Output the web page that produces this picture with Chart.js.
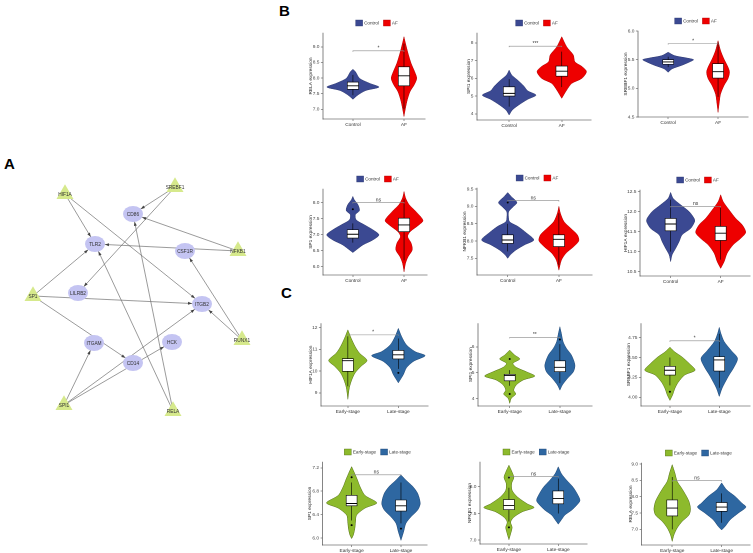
<!DOCTYPE html>
<html>
<head>
<meta charset="utf-8">
<script src="https://cdn.jsdelivr.net/npm/chart.js@4.4.1/dist/chart.umd.min.js"></script>
<style>
html, body { margin: 0; padding: 0; background: #fff; }
body { width: 753px; height: 553px; position: relative; overflow: hidden; font-family: "Liberation Sans", Arial, sans-serif; }
canvas { position: absolute; }
.tag { position: absolute; font-weight: bold; font-size: 15px; line-height: 16px; color: #000; }
</style>
</head>
<body>
<div class="tag" style="left:4px;top:156px">A</div>
<div class="tag" style="left:279px;top:3px">B</div>
<div class="tag" style="left:281px;top:285px">C</div>
<script>
// ---- panel A: network ----
const netNodes = ['HIF1A', 'SREBF1', 'NFKB1', 'SP1', 'RUNX1', 'SPI1', 'RELA',
  'CD86', 'TLR2', 'CSF1R', 'LILRB2', 'ITGB2', 'ITGAM', 'HCK', 'CD14'];
const netX = [65, 175, 238, 33, 242, 64, 173, 133, 95, 185, 78, 202, 94, 172, 133];
const netY = [34, 27, 91, 136, 180, 245, 251, 54, 84, 91, 133, 144, 183, 182, 203];
const netTF = [1, 1, 1, 1, 1, 1, 1, 0, 0, 0, 0, 0, 0, 0, 0];
const edgeFrom = ['HIF1A', 'HIF1A', 'SREBF1', 'SREBF1', 'NFKB1', 'NFKB1', 'SP1', 'SP1', 'SP1',
  'RUNX1', 'RUNX1', 'SPI1', 'SPI1', 'SPI1', 'RELA', 'RELA'];
const edgeTo = ['TLR2', 'ITGB2', 'CD86', 'LILRB2', 'CD86', 'TLR2', 'TLR2', 'ITGB2', 'CD14',
  'ITGB2', 'CSF1R', 'ITGAM', 'ITGB2', 'HCK', 'TLR2', 'CD86'];

// ---- panels B / C: violins (y levels, half widths in category units) ----
const bGroups = ['Control', 'AF'];
const cGroups = ['Early-stage', 'Late-stage'];

const bRELA_ctrl_y = [8.28, 8.20, 7.99, 7.83, 7.71, 7.60, 7.46, 7.32];
const bRELA_ctrl_w = [0, 0.05, 0.13, 0.33, 0.51, 0.25, 0.10, 0];
const bRELA_af_y = [9.32, 9.11, 8.79, 8.47, 8.20, 7.99, 7.78, 7.57, 7.30, 7.04, 6.77];
const bRELA_af_w = [0, 0.03, 0.08, 0.14, 0.21, 0.25, 0.20, 0.12, 0.065, 0.03, 0];
const bRELA_box = [[7.45, 7.64, 7.75, 7.87, 8.1], [7.0, 7.75, 8.07, 8.36, 9.1]];
const bRELA_out = [[], []];
const bRELA_sig = [8.87, '*'];

const bSPI1_ctrl_y = [6.46, 6.18, 5.90, 5.56, 5.30, 5.05, 4.81, 4.49, 4.21, 3.93];
const bSPI1_ctrl_w = [0, 0.05, 0.16, 0.28, 0.35, 0.51, 0.35, 0.18, 0.06, 0];
const bSPI1_af_y = [8.34, 7.77, 7.31, 6.93, 6.65, 6.37, 5.99, 5.71, 5.34, 4.87];
const bSPI1_af_w = [0, 0.095, 0.22, 0.25, 0.39, 0.47, 0.38, 0.19, 0.095, 0];
const bSPI1_box = [[4.4, 5.0, 5.15, 5.52, 5.95], [5.5, 6.12, 6.40, 6.69, 7.5]];
const bSPI1_out = [[], []];
const bSPI1_sig = [7.81, '***'];

const bSREBF1_ctrl_y = [5.68, 5.62, 5.58, 5.55, 5.51, 5.45, 5.39, 5.33];
const bSREBF1_ctrl_w = [0, 0.13, 0.37, 0.51, 0.43, 0.27, 0.08, 0];
const bSREBF1_af_y = [5.88, 5.71, 5.56, 5.42, 5.33, 5.22, 5.10, 4.95, 4.84, 4.63];
const bSREBF1_af_w = [0, 0.05, 0.12, 0.20, 0.23, 0.20, 0.12, 0.05, 0.03, 0];
const bSREBF1_box = [[5.42, 5.47, 5.51, 5.55, 5.6], [4.9, 5.23, 5.34, 5.48, 5.85]];
const bSREBF1_out = [[], []];
const bSREBF1_sig = [5.83, '*'];

const bSP1_ctrl_y = [8.19, 8.08, 7.93, 7.75, 7.62, 7.46, 7.30, 7.15, 6.99, 6.83, 6.68, 6.52, 6.44];
const bSP1_ctrl_w = [0, 0.03, 0.10, 0.13, 0.05, 0.065, 0.23, 0.39, 0.51, 0.39, 0.20, 0.065, 0];
const bSP1_af_y = [8.34, 8.14, 7.93, 7.72, 7.44, 7.30, 7.09, 6.94, 6.73, 6.52, 6.31, 6.11, 5.84];
const bSP1_af_w = [0, 0.03, 0.10, 0.23, 0.37, 0.29, 0.12, 0.07, 0.14, 0.16, 0.08, 0.03, 0];
const bSP1_box = [[6.75, 6.89, 7.01, 7.15, 7.35], [6.2, 7.09, 7.30, 7.51, 8.1]];
const bSP1_out = [[7.79], []];
const bSP1_sig = [8.0, 'ns'];

const bNFKB1_ctrl_y = [9.40, 9.29, 9.11, 8.98, 8.85, 8.71, 8.56, 8.42, 8.24, 8.03, 7.89, 7.74, 7.60, 7.50];
const bNFKB1_ctrl_w = [0, 0.065, 0.18, 0.10, 0.02, 0.015, 0.035, 0.20, 0.36, 0.51, 0.33, 0.16, 0.05, 0];
const bNFKB1_af_y = [9.0, 8.80, 8.56, 8.37, 8.18, 8.01, 7.84, 7.65, 7.45, 7.16];
const bNFKB1_af_w = [0, 0.03, 0.10, 0.23, 0.36, 0.39, 0.29, 0.14, 0.05, 0];
const bNFKB1_box = [[7.7, 7.93, 8.03, 8.18, 8.5], [7.3, 7.84, 8.05, 8.18, 8.8]];
const bNFKB1_out = [[9.11], []];
const bNFKB1_sig = [9.17, 'ns'];

const bHIF1A_ctrl_y = [12.48, 12.33, 12.17, 12.0, 11.83, 11.75, 11.58, 11.42, 11.25, 11.08, 10.92, 10.75];
const bHIF1A_ctrl_w = [0, 0.05, 0.20, 0.37, 0.47, 0.48, 0.40, 0.23, 0.17, 0.10, 0.03, 0];
const bHIF1A_af_y = [12.42, 12.25, 12.04, 11.83, 11.67, 11.48, 11.33, 11.17, 10.96, 10.75, 10.58];
const bHIF1A_af_w = [0, 0.05, 0.17, 0.30, 0.43, 0.50, 0.40, 0.25, 0.13, 0.07, 0];
const bHIF1A_box = [[11.0, 11.52, 11.69, 11.83, 12.3], [10.8, 11.28, 11.46, 11.63, 12.1]];
const bHIF1A_out = [[], []];
const bHIF1A_sig = [12.13, 'ns'];

const cHIF1A_early_y = [11.9, 11.52, 11.13, 10.83, 10.49, 10.22, 9.92, 9.61, 9.23, 8.70];
const cHIF1A_early_w = [0, 0.065, 0.145, 0.23, 0.38, 0.26, 0.145, 0.08, 0.03, 0];
const cHIF1A_late_y = [11.97, 11.59, 11.21, 10.90, 10.71, 10.45, 10.15, 9.84, 9.46];
const cHIF1A_late_w = [0, 0.065, 0.16, 0.33, 0.53, 0.30, 0.16, 0.10, 0];
const cHIF1A_box = [[9.3, 9.99, 10.48, 10.57, 11.6], [10.1, 10.56, 10.75, 10.95, 11.5]];
const cHIF1A_out = [[], [9.92]];
const cHIF1A_sig = [11.67, '*'];

const cSPI1_early_y = [5.87, 5.68, 5.53, 5.36, 5.21, 5.04, 4.87, 4.72, 4.53, 4.33, 4.18, 4.01, 3.82];
const cSPI1_early_w = [0, 0.10, 0.20, 0.065, 0.13, 0.33, 0.50, 0.27, 0.13, 0.08, 0.12, 0.03, 0];
const cSPI1_late_y = [6.77, 6.51, 6.19, 5.94, 5.68, 5.30, 5.04, 4.78, 4.53, 4.33];
const cSPI1_late_w = [0, 0.03, 0.065, 0.13, 0.23, 0.30, 0.27, 0.15, 0.05, 0];
const cSPI1_box = [[4.5, 4.69, 4.89, 4.94, 5.1], [4.6, 5.04, 5.21, 5.46, 6.1]];
const cSPI1_out = [[5.53, 4.18], [6.28]];
const cSPI1_sig = [6.36, '**'];

const cSREBF1_early_y = [4.63, 4.57, 4.51, 4.42, 4.34, 4.28, 4.19, 4.11, 4.03, 3.96];
const cSREBF1_early_w = [0, 0.10, 0.24, 0.40, 0.51, 0.30, 0.17, 0.10, 0.055, 0];
const cSREBF1_late_y = [4.88, 4.80, 4.70, 4.59, 4.49, 4.38, 4.28, 4.19, 4.11, 4.01];
const cSREBF1_late_w = [0, 0.035, 0.10, 0.24, 0.37, 0.30, 0.20, 0.12, 0.055, 0];
const cSREBF1_box = [[4.15, 4.28, 4.34, 4.39, 4.5], [4.12, 4.33, 4.47, 4.51, 4.8]];
const cSREBF1_out = [[4.07], []];
const cSREBF1_sig = [4.71, '*'];

const cSP1_early_y = [7.22, 7.10, 6.99, 6.88, 6.73, 6.60, 6.51, 6.39, 6.28, 6.16, 6.05, 5.99];
const cSP1_early_w = [0, 0.065, 0.12, 0.17, 0.27, 0.51, 0.27, 0.10, 0.08, 0.065, 0.035, 0];
const cSP1_late_y = [7.08, 6.99, 6.88, 6.76, 6.59, 6.48, 6.36, 6.25, 6.11, 5.96];
const cSP1_late_w = [0, 0.10, 0.24, 0.34, 0.39, 0.34, 0.20, 0.10, 0.055, 0];
const cSP1_box = [[6.3, 6.55, 6.59, 6.73, 6.95], [6.25, 6.46, 6.55, 6.65, 6.95]];
const cSP1_out = [[7.04, 6.22], [6.16]];
const cSP1_sig = [7.08, 'ns'];

const cNFKB1_early_y = [8.40, 8.27, 8.17, 8.06, 7.93, 7.81, 7.68, 7.61, 7.53, 7.43, 7.34, 7.24, 7.12, 7.01];
const cNFKB1_early_w = [0, 0.065, 0.10, 0.055, 0.065, 0.17, 0.37, 0.51, 0.27, 0.10, 0.035, 0.065, 0.035, 0];
const cNFKB1_late_y = [8.37, 8.24, 8.12, 7.99, 7.84, 7.74, 7.65, 7.56, 7.47, 7.37, 7.30];
const cNFKB1_late_w = [0, 0.065, 0.17, 0.30, 0.40, 0.44, 0.37, 0.27, 0.135, 0.055, 0];
const cNFKB1_box = [[7.35, 7.57, 7.65, 7.76, 7.98], [7.5, 7.68, 7.78, 7.92, 8.15]];
const cNFKB1_out = [[8.17, 7.24], []];
const cNFKB1_sig = [8.19, 'ns'];

const cRELA_early_y = [8.98, 8.72, 8.47, 8.26, 8.06, 7.85, 7.62, 7.44, 7.24, 7.04, 6.83, 6.63];
const cRELA_early_w = [0, 0.055, 0.10, 0.19, 0.27, 0.34, 0.37, 0.34, 0.20, 0.10, 0.035, 0];
const cRELA_late_y = [8.42, 8.21, 8.01, 7.80, 7.68, 7.50, 7.29, 7.09, 6.98];
const cRELA_late_w = [0, 0.10, 0.27, 0.41, 0.49, 0.34, 0.17, 0.07, 0];
const cRELA_box = [[7.0, 7.41, 7.65, 7.90, 8.6], [7.2, 7.55, 7.68, 7.82, 8.1]];
const cRELA_out = [[], []];
const cRELA_sig = [8.49, 'ns'];

const bColors = ['#3B4992', '#EE0000'];
const bEdges = ['#2c376f', '#b00000'];
const cColors = ['#8DBA2C', '#2E67A1'];
const cEdges = ['#4f6b12', '#1d4472'];

// layout per panel: axis x, plot top, plot right, x-axis y, category 1 px, category 2 px, title gap
const panels = [
  { gene: 'RELA', g: bGroups, col: bColors, ec: bEdges, ys: [bRELA_ctrl_y, bRELA_af_y], ws: [bRELA_ctrl_w, bRELA_af_w], box: bRELA_box, out: bRELA_out, sig: bRELA_sig, yr: [6.69, 9.44], step: 0.5, dec: 1, legend: true, pos: [323, 33, 425, 119, 353, 404, 12] },
  { gene: 'SPI1', g: bGroups, col: bColors, ec: bEdges, ys: [bSPI1_ctrl_y, bSPI1_af_y], ws: [bSPI1_ctrl_w, bSPI1_af_w], box: bSPI1_box, out: bSPI1_out, sig: bSPI1_sig, yr: [3.65, 8.55], step: 1, dec: 0, legend: true, pos: [476.7, 33, 591, 120, 509, 561.7, 8] },
  { gene: 'SREBF1', g: bGroups, col: bColors, ec: bEdges, ys: [bSREBF1_ctrl_y, bSREBF1_af_y], ws: [bSREBF1_ctrl_w, bSREBF1_af_w], box: bSREBF1_box, out: bSREBF1_out, sig: bSREBF1_sig, yr: [4.55, 6.05], step: 0.5, dec: 1, legend: true, pos: [637.7, 30.7, 748, 116.7, 668, 718, 12] },
  { gene: 'SP1', g: bGroups, col: bColors, ec: bEdges, ys: [bSP1_ctrl_y, bSP1_af_y], ws: [bSP1_ctrl_w, bSP1_af_w], box: bSP1_box, out: bSP1_out, sig: bSP1_sig, yr: [5.74, 8.42], step: 0.5, dec: 1, legend: true, pos: [322.7, 189.3, 427, 275, 352.7, 404, 12] },
  { gene: 'NFKB1', g: bGroups, col: bColors, ec: bEdges, ys: [bNFKB1_ctrl_y, bNFKB1_af_y], ws: [bNFKB1_ctrl_w, bNFKB1_af_w], box: bNFKB1_box, out: bNFKB1_out, sig: bNFKB1_sig, yr: [7.02, 9.53], step: 0.5, dec: 1, legend: true, pos: [477.3, 188.3, 592, 275, 508, 559, 12] },
  { gene: 'HIF1A', g: bGroups, col: bColors, ec: bEdges, ys: [bHIF1A_ctrl_y, bHIF1A_af_y], ws: [bHIF1A_ctrl_w, bHIF1A_af_w], box: bHIF1A_box, out: bHIF1A_out, sig: bHIF1A_sig, yr: [10.39, 12.54], step: 0.5, dec: 1, legend: true, pos: [640, 190, 750, 276, 670.7, 720.7, 14] },
  { gene: 'HIF1A', g: cGroups, col: cColors, ec: cEdges, ys: [cHIF1A_early_y, cHIF1A_late_y], ws: [cHIF1A_early_w, cHIF1A_late_w], box: cHIF1A_box, out: cHIF1A_out, sig: cHIF1A_sig, yr: [8.39, 12.2], step: 1, dec: 0, legend: false, pos: [320.7, 323.3, 428, 406.7, 347.7, 398.3, 10] },
  { gene: 'SPI1', g: cGroups, col: cColors, ec: cEdges, ys: [cSPI1_early_y, cSPI1_late_y], ws: [cSPI1_early_w, cSPI1_late_w], box: cSPI1_box, out: cSPI1_out, sig: cSPI1_sig, yr: [3.72, 6.9], step: 1, dec: 0, legend: false, pos: [478.3, 323.3, 592, 406, 510, 560, 7] },
  { gene: 'SREBF1', g: cGroups, col: cColors, ec: cEdges, ys: [cSREBF1_early_y, cSREBF1_late_y], ws: [cSREBF1_early_w, cSREBF1_late_w], box: cSREBF1_box, out: cSREBF1_out, sig: cSREBF1_sig, yr: [3.89, 4.93], step: 0.25, dec: 2, legend: false, pos: [641, 323.3, 750, 406, 670, 719.3, 12] },
  { gene: 'SP1', g: cGroups, col: cColors, ec: cEdges, ys: [cSP1_early_y, cSP1_late_y], ws: [cSP1_early_w, cSP1_late_w], box: cSP1_box, out: cSP1_out, sig: cSP1_sig, yr: [5.88, 7.3], step: 0.4, dec: 1, legend: true, pos: [322.7, 461.7, 427, 545, 351.7, 401, 12.7] },
  { gene: 'NFKB1', g: cGroups, col: cColors, ec: cEdges, ys: [cNFKB1_early_y, cNFKB1_late_y], ws: [cNFKB1_early_w, cNFKB1_late_w], box: cNFKB1_box, out: cNFKB1_out, sig: cNFKB1_sig, yr: [6.93, 8.46], step: 0.5, dec: 1, legend: true, pos: [480, 461.7, 587, 544, 509, 558.3, 10] },
  { gene: 'RELA', g: cGroups, col: cColors, ec: cEdges, ys: [cRELA_early_y, cRELA_late_y], ws: [cRELA_early_w, cRELA_late_w], box: cRELA_box, out: cRELA_out, sig: cRELA_sig, yr: [6.52, 9.03], step: 0.5, dec: 1, legend: true, pos: [641.7, 463.3, 750, 545, 672.3, 721.7, 10.7] }
];

const FONT = '"Liberation Sans", Arial, sans-serif';

function addCanvas(left, top, w, h) {
  const cv = document.createElement('canvas');
  cv.style.left = left + 'px';
  cv.style.top = top + 'px';
  cv.style.width = w + 'px';
  cv.style.height = h + 'px';
  cv.width = w;
  cv.height = h;
  document.body.appendChild(cv);
  return cv;
}

// significance label + legend swatches
const decoPlugin = {
  id: 'deco',
  afterDraw(chart, args, o) {
    const { ctx, chartArea: a, scales: { x, y } } = chart;
    ctx.save();
    ctx.font = '5px ' + FONT;
    ctx.fillStyle = '#333';
    ctx.textAlign = 'center';
    ctx.textBaseline = 'alphabetic';
    ctx.fillText(o.sig[1], x.getPixelForValue(1.5), y.getPixelForValue(o.sig[0]) - 1.2);
    if (o.legend) {
      ctx.font = '4.6px ' + FONT;
      const tw = o.groups.map(g => ctx.measureText(g).width);
      const total = tw[0] + tw[1] + 9 * 2 + 4;
      let cx = (a.left + a.right) / 2 + 3 - total / 2;
      const cy = a.top - 10;
      o.groups.forEach((g, i) => {
        ctx.fillStyle = o.cols[i];
        ctx.fillRect(cx, cy - 3, 7, 6);
        ctx.strokeStyle = o.edges[i];
        ctx.lineWidth = 0.4;
        ctx.strokeRect(cx, cy - 3, 7, 6);
        ctx.fillStyle = '#333';
        ctx.textAlign = 'left';
        ctx.textBaseline = 'middle';
        ctx.fillText(g, cx + 8.5, cy + 0.3);
        cx += tw[i] + 9 + 4;
      });
    }
    ctx.restore();
  }
};

function violinPoly(c, ys, ws) {
  const right = ys.map((v, i) => ({ x: c + ws[i], y: v }));
  const left = ys.map((v, i) => ({ x: c - ws[i], y: v })).reverse();
  return right.concat(left);
}

function boxPoly(c, b, bw) {
  return [{ x: c - bw, y: b[1] }, { x: c + bw, y: b[1] }, { x: c + bw, y: b[3] },
    { x: c - bw, y: b[3] }, { x: c - bw, y: b[1] }];
}

panels.forEach(p => {
  const [ax, top, right, bottom, c1, c2, tg] = p.pos;
  const W = tg + 2.9, padTop = p.legend ? 18 : 4, padR = 3, xh = 12;
  const cw = Math.round(W + (right - ax) + padR);
  const ch = Math.round(padTop + (bottom - top) + xh);
  const cv = addCanvas(ax - W, top - padTop, cw, ch);
  const unit = c2 - c1;
  const xmin = 1 - (c1 - ax) / unit;
  const xmax = 1 + (right - c1) / unit;
  const tip = (p.yr[1] - p.yr[0]) * 0.012;
  const bw = 0.11;

  const datasets = [];
  [0, 1].forEach(gi => {
    const c = gi + 1, b = p.box[gi];
    datasets.push({ data: violinPoly(c, p.ys[gi], p.ws[gi]), showLine: true, fill: 'shape', tension: 0.28,
      backgroundColor: p.col[gi], borderColor: p.ec[gi], borderWidth: 0.5, pointRadius: 0, order: 6 });
    datasets.push({ data: [{ x: c, y: b[0] }, { x: c, y: b[4] }], showLine: true, borderColor: '#000',
      borderWidth: 0.6, pointRadius: 0, order: 5 });
    datasets.push({ data: boxPoly(c, b, bw), showLine: true, fill: 'shape', tension: 0,
      backgroundColor: '#fff', borderColor: '#000', borderWidth: 0.6, pointRadius: 0, order: 4 });
    datasets.push({ data: [{ x: c - bw, y: b[2] }, { x: c + bw, y: b[2] }], showLine: true,
      borderColor: '#000', borderWidth: 0.9, pointRadius: 0, order: 3 });
    datasets.push({ data: p.out[gi].map(v => ({ x: c, y: v })), showLine: false, pointRadius: 1,
      backgroundColor: '#000', borderWidth: 0, order: 2 });
  });
  datasets.push({ data: [{ x: 1, y: p.sig[0] - tip }, { x: 1, y: p.sig[0] }, { x: 2, y: p.sig[0] }, { x: 2, y: p.sig[0] - tip }],
    showLine: true, borderColor: '#8a8a8a', borderWidth: 0.6, pointRadius: 0, order: 1 });

  new Chart(cv, {
    type: 'scatter',
    data: { datasets },
    plugins: [decoPlugin],
    options: {
      responsive: false,
      animation: false,
      devicePixelRatio: 2,
      layout: { autoPadding: false, padding: { top: padTop, right: padR, left: 0, bottom: 0 } },
      plugins: {
        legend: { display: false },
        tooltip: { enabled: false },
        deco: { sig: p.sig, legend: p.legend, groups: p.g, cols: p.col, edges: p.ec }
      },
      scales: {
        x: {
          type: 'linear', min: xmin, max: xmax,
          afterBuildTicks: s => { s.ticks = [{ value: 1 }, { value: 2 }]; },
          afterFit: s => { s.height = xh; },
          ticks: { callback: v => p.g[v - 1], font: { size: 4.8, family: FONT }, color: '#333', padding: 1, maxRotation: 0 },
          grid: { display: true, drawOnChartArea: false, drawTicks: true, tickLength: 2, tickColor: '#333', tickWidth: 0.5 },
          border: { display: true, color: '#333', width: 0.6 }
        },
        y: {
          type: 'linear', min: p.yr[0], max: p.yr[1],
          afterFit: s => { s.width = W; },
          ticks: { stepSize: p.step, includeBounds: false, callback: v => Number(v).toFixed(p.dec),
            font: { size: 4.8, family: FONT }, color: '#444', padding: 1.5 },
          grid: { display: true, drawOnChartArea: false, drawTicks: true, tickLength: 2, tickColor: '#333', tickWidth: 0.5 },
          border: { display: true, color: '#333', width: 0.6 },
          title: { display: true, text: p.gene + ' expression', font: { size: 4.8, family: FONT }, color: '#222', padding: 0 }
        }
      }
    }
  });
});

// ---- network chart ----
function nodeIndex(n) { return netNodes.indexOf(n); }

const ellipse = document.createElement('canvas');
ellipse.width = 20;
ellipse.height = 16;
(function () {
  const g = ellipse.getContext('2d');
  g.fillStyle = '#C4C4F2';
  g.beginPath();
  g.ellipse(10, 8, 10, 8, 0, 0, Math.PI * 2);
  g.fill();
})();

const netPlugin = {
  id: 'netDeco',
  afterDatasetsDraw(chart) {
    const { ctx, scales: { x, y } } = chart;
    ctx.save();
    ctx.fillStyle = '#444';
    edgeFrom.forEach((f, k) => {
      const s = nodeIndex(f), t = nodeIndex(edgeTo[k]);
      const x0 = x.getPixelForValue(netX[s]), y0 = y.getPixelForValue(netY[s]);
      const x1 = x.getPixelForValue(netX[t]), y1 = y.getPixelForValue(netY[t]);
      const L = Math.hypot(x1 - x0, y1 - y0), ux = (x1 - x0) / L, uy = (y1 - y0) / L;
      const r = 1 / Math.sqrt((ux / 10) ** 2 + (uy / 8) ** 2);
      const tx = x1 - ux * r, ty = y1 - uy * r, al = 4, aw = 1.5;
      ctx.beginPath();
      ctx.moveTo(tx, ty);
      ctx.lineTo(tx - ux * al - uy * aw, ty - uy * al + ux * aw);
      ctx.lineTo(tx - ux * al + uy * aw, ty - uy * al - ux * aw);
      ctx.closePath();
      ctx.fill();
    });
    ctx.font = '4.8px ' + FONT;
    ctx.fillStyle = '#333';
    ctx.textAlign = 'center';
    ctx.textBaseline = 'middle';
    netNodes.forEach((n, i) => ctx.fillText(n, x.getPixelForValue(netX[i]), y.getPixelForValue(netY[i]) + 0.5));
    ctx.restore();
  }
};

const netCanvas = addCanvas(0, 160, 270, 320);
const edgeSets = edgeFrom.map((f, k) => {
  const s = nodeIndex(f), t = nodeIndex(edgeTo[k]);
  return { data: [{ x: netX[s], y: netY[s] }, { x: netX[t], y: netY[t] }], showLine: true,
    borderColor: '#707070', borderWidth: 0.7, pointRadius: 0, order: 3 };
});
const tfPts = netNodes.map((n, i) => ({ x: netX[i], y: netY[i] })).filter((d, i) => netTF[i]);
const genePts = netNodes.map((n, i) => ({ x: netX[i], y: netY[i] })).filter((d, i) => !netTF[i]);

new Chart(netCanvas, {
  type: 'scatter',
  data: {
    datasets: edgeSets.concat([
      { data: tfPts, pointStyle: 'triangle', pointRadius: 9.8, backgroundColor: '#D6E98C', borderWidth: 0, order: 1 },
      { data: genePts, pointStyle: ellipse, pointRadius: 8, order: 1 }
    ])
  },
  plugins: [netPlugin],
  options: {
    responsive: false,
    animation: false,
    devicePixelRatio: 1,
    layout: { autoPadding: false, padding: 0 },
    plugins: { legend: { display: false }, tooltip: { enabled: false } },
    scales: {
      x: { type: 'linear', min: 0, max: 270, display: false },
      y: { type: 'linear', min: 0, max: 320, reverse: true, display: false }
    }
  }
});
</script>
</body>
</html>
